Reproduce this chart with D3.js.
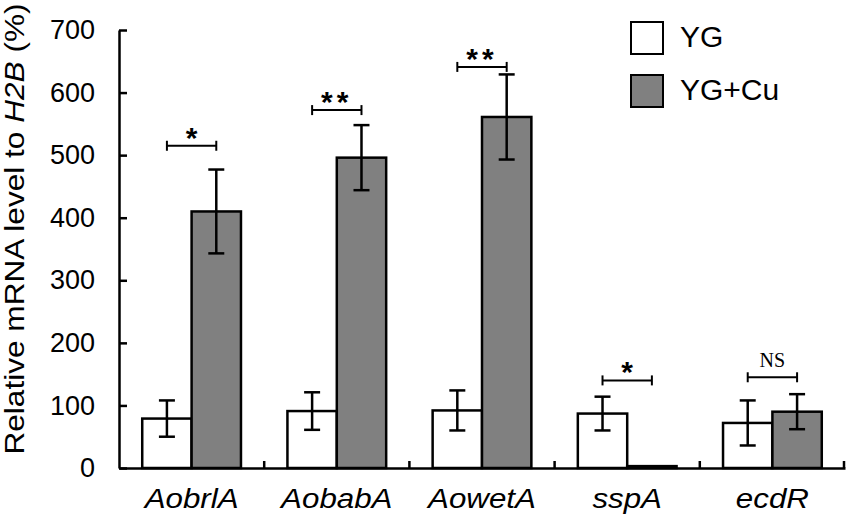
<!DOCTYPE html>
<html>
<head>
<meta charset="utf-8">
<script src="https://cdn.jsdelivr.net/npm/d3@7"></script>
<style>
  body { margin: 0; background: #fff; }
  svg { display: block; font-family: "Liberation Sans", Arial, sans-serif; }
</style>
</head>
<body>
<div id="chart"></div>
<script>
// data
const genes   = ["AobrlA", "AobabA", "AowetA", "sspA", "ecdR"];
const series  = ["YG", "YG+Cu"];
const ygMean  = [79, 91, 92, 87, 72];
const ygErr   = [29, 30, 32, 27, 36];
const cuMean  = [410, 496, 561, 3, 90];
const cuErr   = [67, 52, 68, 0, 28];
const sigMark = ["*", "**", "**", "*", "NS"];
const sigY    = [515, 572, 641, 140, 145];
const yTicks  = [0, 100, 200, 300, 400, 500, 600, 700];

const width = 851, height = 519;
const margin = {top: 30, right: 6, bottom: 51, left: 119};
const fills = {"YG": "#ffffff", "YG+Cu": "#808080"};

const svg = d3.select("#chart").append("svg")
  .attr("width", width).attr("height", height);

const x0 = d3.scaleBand()
  .domain(genes)
  .range([margin.left, width - margin.right])
  .padding(0);
const x1 = d3.scaleBand()
  .domain(series)
  .range([x0.bandwidth() * 0.16, x0.bandwidth() * 0.84])
  .padding(0);
const y = d3.scaleLinear()
  .domain([0, 700])
  .range([height - margin.bottom, margin.top]);

const rows = genes.map((g, i) => ({
  gene: g,
  vals: [
    {s: "YG", v: ygMean[i], e: ygErr[i]},
    {s: "YG+Cu", v: cuMean[i], e: cuErr[i]}
  ],
  sig: sigMark[i],
  sy: sigY[i]
}));

// bars
const grp = svg.append("g").selectAll("g")
  .data(rows)
  .join("g")
    .attr("transform", d => `translate(${x0(d.gene)},0)`);

grp.selectAll("rect")
  .data(d => d.vals)
  .join("rect")
    .attr("x", d => x1(d.s))
    .attr("y", d => y(d.v))
    .attr("width", x1.bandwidth())
    .attr("height", d => y(0) - y(d.v))
    .attr("fill", d => fills[d.s])
    .attr("stroke", "#000")
    .attr("stroke-width", 2.5);

// error bars
const cap = 8;
const eb = grp.selectAll("g.err")
  .data(d => d.vals.filter(v => v.e > 0))
  .join("g").attr("class", "err")
    .attr("stroke", "#000").attr("stroke-width", 2.5);
eb.append("line")
  .attr("x1", d => x1(d.s) + x1.bandwidth() / 2)
  .attr("x2", d => x1(d.s) + x1.bandwidth() / 2)
  .attr("y1", d => y(d.v + d.e))
  .attr("y2", d => y(d.v - d.e));
eb.selectAll("line.cap")
  .data(d => [d.v + d.e, d.v - d.e].map(t => ({s: d.s, t})))
  .join("line").attr("class", "cap")
    .attr("x1", d => x1(d.s) + x1.bandwidth() / 2 - cap)
    .attr("x2", d => x1(d.s) + x1.bandwidth() / 2 + cap)
    .attr("y1", d => y(d.t))
    .attr("y2", d => y(d.t));

// significance brackets
const cx = s => x1(s) + x1.bandwidth() / 2;
const br = grp.append("g").attr("stroke", "#000").attr("stroke-width", 2);
br.append("line")
  .attr("x1", cx("YG")).attr("x2", cx("YG+Cu"))
  .attr("y1", d => y(d.sy)).attr("y2", d => y(d.sy));
br.append("line")
  .attr("x1", cx("YG")).attr("x2", cx("YG"))
  .attr("y1", d => y(d.sy) - 5).attr("y2", d => y(d.sy) + 5);
br.append("line")
  .attr("x1", cx("YG+Cu")).attr("x2", cx("YG+Cu"))
  .attr("y1", d => y(d.sy) - 5).attr("y2", d => y(d.sy) + 5);

grp.append("text")
  .attr("x", x0.bandwidth() / 2)
  .attr("y", d => d.sig === "NS" ? y(d.sy) - 10 : y(d.sy) + 2)
  .attr("text-anchor", "middle")
  .attr("font-family", d => d.sig === "NS" ? "'Liberation Serif', 'Times New Roman', serif" : null)
  .attr("font-size", d => d.sig === "NS" ? 20 : 30)
  .attr("font-weight", d => d.sig === "NS" ? "normal" : "bold")
  .attr("letter-spacing", d => d.sig === "**" ? 4 : 0)
  .text(d => d.sig);

// y axis
const yAxis = svg.append("g")
  .attr("transform", `translate(${margin.left},0)`)
  .call(d3.axisLeft(y).tickValues(yTicks).tickSizeInner(-8).tickSizeOuter(0).tickPadding(24));
yAxis.select(".domain").attr("stroke-width", 2.5);
yAxis.selectAll(".tick line").attr("stroke-width", 2.5);
yAxis.selectAll(".tick text")
  .attr("font-size", 27).attr("font-family", "'Liberation Sans', Arial, sans-serif").attr("fill", "#000");

// x axis
const xAxis = svg.append("g")
  .attr("transform", `translate(0,${y(0)})`)
  .call(d3.axisBottom(x0).tickSize(0).tickPadding(21));
xAxis.select(".domain").attr("stroke-width", 2.5);
xAxis.selectAll(".tick text")
  .attr("font-size", 27).attr("font-style", "italic")
  .attr("font-family", "'Liberation Sans', Arial, sans-serif").attr("fill", "#000")
  .attr("dy", "0.71em")
  .attr("transform", "scale(1.16,1)");
// boundary ticks pointing up
svg.append("g").attr("stroke", "#000").attr("stroke-width", 2.5)
  .selectAll("line")
  .data(genes.slice(1).map(g => x0(g)).concat([x0.range()[1] - 1]))
  .join("line")
    .attr("x1", d => d).attr("x2", d => d)
    .attr("y1", y(0)).attr("y2", y(0) - 7);

// y label
svg.append("text")
  .attr("transform", `translate(24,229) rotate(-90) scale(1.17,1)`)
  .attr("text-anchor", "middle")
  .attr("font-size", 27)
  .call(t => {
    t.append("tspan").text("Relative mRNA level to ");
    t.append("tspan").attr("font-style", "italic").text("H2B");
    t.append("tspan").text(" (%)");
  });

// legend
const leg = svg.append("g").attr("transform", "translate(631,22)");
const li = leg.selectAll("g")
  .data(series)
  .join("g")
    .attr("transform", (d, i) => `translate(0,${i * 53})`);
li.append("rect")
  .attr("width", 32).attr("height", 32)
  .attr("fill", d => fills[d])
  .attr("stroke", "#000").attr("stroke-width", 2);
li.append("text")
  .attr("x", 49).attr("y", 25)
  .attr("font-size", 30)
  .text(d => d);
</script>
</body>
</html>
